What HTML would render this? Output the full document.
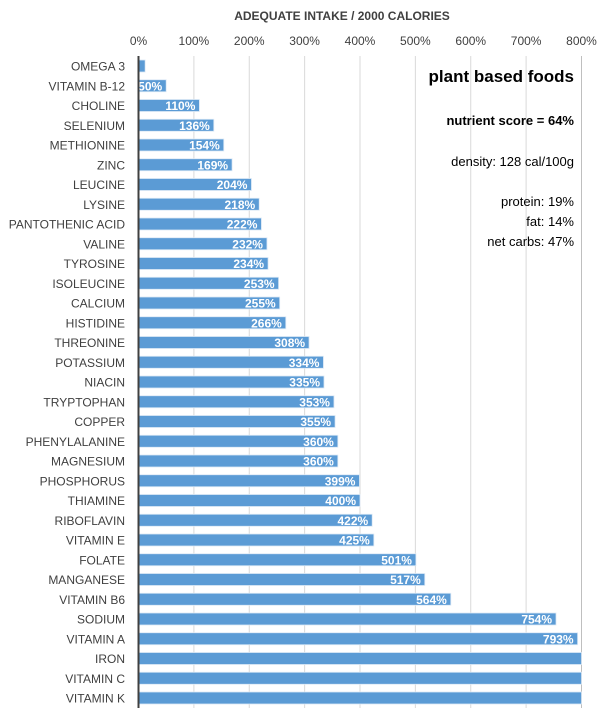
<!DOCTYPE html>
<html><head><meta charset="utf-8"><style>
body{margin:0;background:#fff;font-family:"Liberation Sans",sans-serif}
svg text{font-family:"Liberation Sans",sans-serif}
</style></head><body>
<svg id="c" width="608" height="716" xmlns="http://www.w3.org/2000/svg">
<text x="342" y="20" text-anchor="middle" font-size="12" font-weight="bold" fill="#404040">ADEQUATE INTAKE / 2000 CALORIES</text>
<g id="grid"></g><g id="bars"></g>
<line x1="138.5" y1="56" x2="138.5" y2="708" stroke="#404040" stroke-width="2"/>
<text x="574" y="82" text-anchor="end" font-size="17" font-weight="bold" fill="#000">plant based foods</text>
<text x="574" y="125" text-anchor="end" font-size="13" font-weight="bold" fill="#000">nutrient score = 64%</text>
<text x="574" y="166" text-anchor="end" font-size="13" fill="#000">density: 128 cal/100g</text>
<text x="574" y="206" text-anchor="end" font-size="13" fill="#000">protein: 19%</text>
<text x="574" y="226" text-anchor="end" font-size="13" fill="#000">fat: 14%</text>
<text x="574" y="246" text-anchor="end" font-size="13" fill="#000">net carbs: 47%</text>
</svg>
<script>
const categories=["OMEGA 3","VITAMIN B-12","CHOLINE","SELENIUM","METHIONINE","ZINC","LEUCINE","LYSINE","PANTOTHENIC ACID","VALINE","TYROSINE","ISOLEUCINE","CALCIUM","HISTIDINE","THREONINE","POTASSIUM","NIACIN","TRYPTOPHAN","COPPER","PHENYLALANINE","MAGNESIUM","PHOSPHORUS","THIAMINE","RIBOFLAVIN","VITAMIN E","FOLATE","MANGANESE","VITAMIN B6","SODIUM","VITAMIN A","IRON","VITAMIN C","VITAMIN K"];
const values=[12,50,110,136,154,169,204,218,222,232,234,253,255,266,308,334,335,353,355,360,360,399,400,422,425,501,517,564,754,793,1000,1000,1000];
const ticks=[0,100,200,300,400,500,600,700,800];
const NS="http://www.w3.org/2000/svg";
const x0=138.5,x1=581.5,maxV=800;
const xs=v=>x0+(Math.min(v,maxV)/maxV)*(x1-x0);
const rowY=i=>66+i*19.75;
const grid=document.getElementById('grid'),bars=document.getElementById('bars');
function mk(t,a,p){const e=document.createElementNS(NS,t);for(const k in a)e.setAttribute(k,a[k]);p.appendChild(e);return e;}
ticks.forEach(t=>{
 if(t>0){const l=mk('line',{x1:xs(t),x2:xs(t),y1:56,y2:708,stroke:t==800?'#bfbfbf':'#d9d9d9','stroke-width':1},grid);
 
 }
 const tx=mk('text',{x:xs(t),y:45,'text-anchor':'middle','font-size':12,fill:'#404040'},grid);
 tx.textContent=t+'%';
 
 
});
categories.forEach((c,i)=>{
 const y=rowY(i),v=values[i];
 const lb=mk('text',{x:125,y:y+4.5,'text-anchor':'end','font-size':12,fill:'#404040'},bars);
 lb.textContent=c;
 
 
 const w=xs(v)-x0;
 const r=mk('rect',{x:x0,y:y-6,width:w,height:12,fill:'#5b9bd5',stroke:'#dce9f6','stroke-width':0.8},bars);
 
 
 if(v>=50&&v<=maxV){
  const t=mk('text',{x:xs(v)-4,y:y+4.5,'text-anchor':'end','font-size':12,'font-weight':'bold',fill:'#fff'},bars);
  t.textContent=v+'%';
  
  
 }
});
</script>
</body></html>
